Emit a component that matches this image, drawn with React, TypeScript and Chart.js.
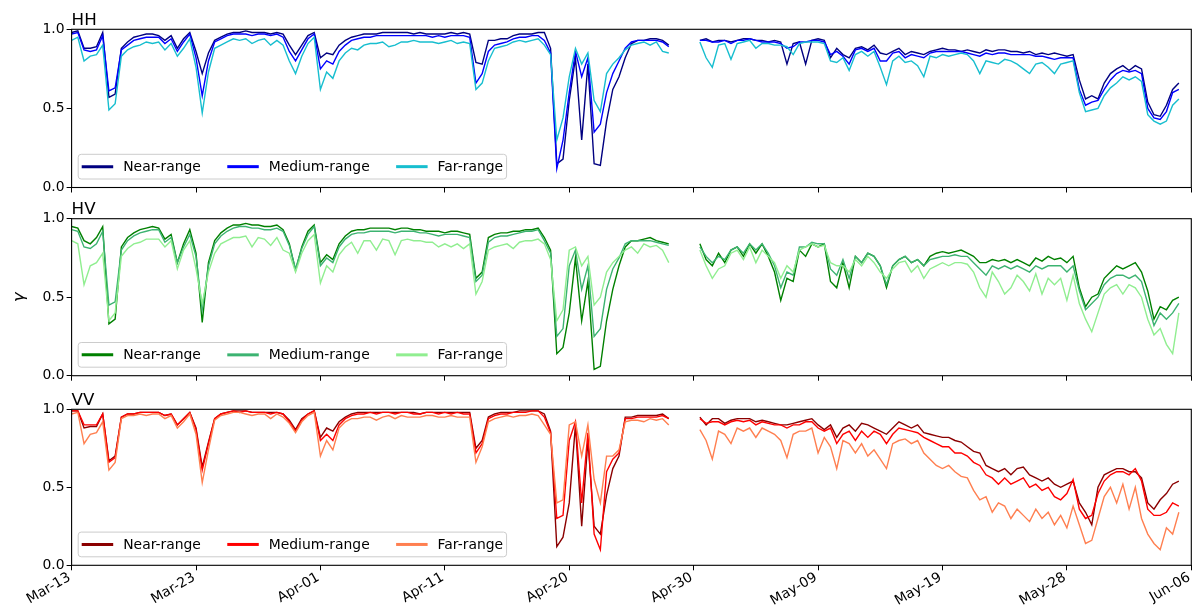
import { useEffect, useRef } from 'react';
import { Chart, registerables } from 'chart.js';

Chart.register(...registerables);

Chart.defaults.font.family = "'DejaVu Sans'";
Chart.defaults.font.size = 13.9;
Chart.defaults.color = '#000';

// Shared sample axis: one date label every 20 samples
const tickLabels = ['Mar-13', 'Mar-23', 'Apr-01', 'Apr-11', 'Apr-20', 'Apr-30', 'May-09', 'May-19', 'May-28', 'Jun-06'];
const samplesPerTick = 20;
const sampleCount = 181;
const rangeNames = ['Near-range', 'Medium-range', 'Far-range'];

// Coherence per sample, HH polarisation
const hhNear = [
  .98, .99, .88, .88, .89, .98, .57, .59, .88, .92,
  .95, .96, .97, .97, .96, .93, .96, .88, .94, .98,
  .86, .72, .85, .93, .95, .97, .98, .98, .99, .98,
  .98, .98, .97, .98, .97, .90, .84, .90, .96, .98,
  .82, .85, .84, .90, .93, .95, .96, .97, .97, .97,
  .98, .98, .98, .98, .98, .97, .98, .97, .97, .97,
  .97, .98, .97, .98, .97, .79, .78, .93, .93, .94,
  .94, .96, .97, .97, .97, .98, .98, .88, .15, .18,
  .55, .82, .30, .78, .15, .14, .42, .62, .70, .82,
  .91, .93, .93, .94, .94, .93, .90, null, null, null,
  null, .93, .94, .92, .93, .93, .92, .93, .94, .94,
  .93, .93, .92, .93, .92, .78, .91, .92, .78, .93,
  .94, .93, .82, .88, .84, .82, .88, .89, .87, .90,
  .85, .84, .86, .88, .84, .86, .85, .84, .86, .87,
  .88, .87, .87, .86, .87, .86, .85, .87, .86, .87,
  .87, .86, .86, .85, .86, .84, .85, .84, .85, .84,
  .83, .84, .68, .56, .58, .56, .66, .72, .75, .77,
  .74, .77, .75, .54, .46, .45, .52, .62, .66, null,
  null,
];
const hhMedium = [
  .97, .98, .87, .86, .87, .96, .61, .63, .87, .90,
  .93, .94, .95, .95, .95, .91, .94, .86, .92, .97,
  .82, .58, .80, .92, .94, .96, .97, .97, .97, .96,
  .97, .97, .96, .97, .95, .86, .80, .87, .94, .97,
  .75, .80, .78, .86, .90, .93, .94, .95, .95, .96,
  .96, .96, .96, .96, .96, .96, .96, .96, .95, .96,
  .95, .96, .96, .96, .95, .66, .72, .86, .90, .91,
  .92, .94, .95, .95, .96, .96, .93, .85, .12, .30,
  .60, .86, .70, .82, .35, .40, .60, .72, .80, .88,
  .92, .93, .93, .93, .93, .92, .89, null, null, null,
  null, .93, .93, .92, .92, .93, .91, .93, .93, .94,
  .93, .92, .92, .92, .91, .88, .89, .92, .92, .93,
  .93, .92, .84, .86, .83, .78, .87, .88, .86, .88,
  .80, .80, .85, .86, .82, .84, .83, .82, .85, .86,
  .86, .86, .86, .86, .85, .84, .83, .85, .84, .85,
  .85, .84, .84, .84, .84, .83, .83, .82, .81, .82,
  .82, .82, .62, .52, .54, .55, .62, .68, .72, .74,
  .73, .74, .72, .50, .44, .43, .48, .60, .62, null,
  null,
];
const hhFar = [
  .93, .95, .80, .83, .84, .90, .49, .53, .83, .87,
  .89, .90, .92, .91, .92, .87, .91, .83, .88, .94,
  .76, .47, .73, .88, .90, .92, .94, .93, .94, .91,
  .93, .94, .90, .93, .90, .80, .72, .83, .91, .95,
  .62, .73, .69, .80, .85, .88, .87, .90, .91, .91,
  .92, .89, .90, .92, .92, .93, .92, .92, .92, .91,
  .92, .93, .91, .92, .91, .62, .66, .80, .88, .89,
  .90, .92, .93, .92, .93, .94, .90, .84, .30, .44,
  .70, .88, .78, .85, .55, .48, .72, .78, .82, .87,
  .90, .91, .92, .90, .92, .86, .85, null, null, null,
  null, .92, .82, .76, .90, .91, .81, .91, .92, .93,
  .88, .91, .91, .90, .90, .89, .84, .91, .92, .92,
  .92, .91, .80, .79, .82, .74, .84, .86, .83, .86,
  .76, .65, .80, .83, .79, .80, .77, .70, .83, .82,
  .84, .83, .84, .85, .84, .80, .72, .80, .79, .78,
  .81, .80, .78, .75, .72, .78, .79, .76, .72, .78,
  .79, .80, .60, .48, .49, .50, .58, .63, .66, .70,
  .68, .70, .67, .46, .42, .40, .42, .52, .56, null,
  null,
];

// Coherence per sample, HV polarisation
const hvNear = [
  .95, .94, .86, .84, .88, .95, .33, .36, .82, .88,
  .91, .93, .94, .95, .94, .87, .90, .72, .84, .93,
  .78, .34, .72, .86, .91, .94, .96, .96, .97, .96,
  .96, .95, .95, .96, .93, .84, .67, .82, .92, .96,
  .72, .77, .74, .84, .89, .92, .93, .93, .94, .94,
  .94, .94, .93, .94, .94, .93, .93, .92, .92, .92,
  .91, .92, .92, .91, .90, .62, .66, .88, .90, .91,
  .91, .92, .92, .93, .93, .94, .88, .80, .14, .18,
  .40, .75, .35, .60, .04, .06, .35, .55, .70, .82,
  .86, .86, .87, .88, .86, .85, .84, null, null, null,
  null, .84, .74, .70, .78, .72, .80, .82, .76, .84,
  .78, .84, .76, .66, .48, .62, .60, .80, .76, .84,
  .82, .84, .60, .56, .72, .56, .76, .72, .78, .76,
  .70, .56, .70, .74, .76, .72, .74, .70, .76, .78,
  .79, .78, .79, .80, .78, .76, .72, .72, .74, .73,
  .74, .72, .74, .72, .70, .75, .73, .76, .74, .75,
  .72, .76, .56, .44, .50, .52, .62, .66, .70, .68,
  .70, .72, .66, .54, .36, .44, .42, .48, .50, null,
  null,
];
const hvMedium = [
  .93, .92, .82, .81, .84, .92, .45, .47, .80, .86,
  .89, .91, .92, .93, .93, .85, .88, .72, .82, .90,
  .76, .42, .70, .84, .89, .92, .94, .95, .95, .94,
  .94, .93, .93, .94, .92, .83, .68, .81, .90, .95,
  .70, .75, .72, .82, .87, .90, .91, .91, .92, .92,
  .92, .92, .91, .92, .92, .92, .91, .91, .90, .89,
  .90, .90, .90, .89, .88, .60, .64, .85, .88, .89,
  .89, .90, .91, .92, .92, .93, .86, .78, .25, .30,
  .70, .80, .55, .70, .25, .30, .55, .68, .75, .84,
  .86, .86, .86, .86, .85, .84, .83, null, null, null,
  null, .82, .76, .72, .76, .74, .80, .82, .78, .84,
  .80, .84, .78, .70, .56, .66, .64, .82, .82, .85,
  .84, .84, .68, .64, .74, .62, .76, .72, .78, .76,
  .70, .58, .70, .74, .76, .72, .74, .70, .74, .75,
  .76, .76, .77, .76, .76, .72, .68, .64, .70, .68,
  .70, .68, .70, .68, .66, .70, .68, .70, .70, .70,
  .66, .70, .54, .42, .46, .50, .58, .62, .64, .64,
  .62, .64, .60, .46, .32, .40, .36, .40, .46, null,
  null,
];
const hvFar = [
  .86, .84, .58, .70, .72, .78, .35, .40, .76, .81,
  .84, .85, .87, .87, .87, .82, .86, .68, .80, .86,
  .68, .46, .66, .78, .84, .86, .88, .88, .89, .82,
  .88, .87, .83, .88, .80, .78, .66, .78, .86, .90,
  .59, .70, .66, .77, .82, .85, .78, .86, .86, .80,
  .87, .86, .77, .86, .87, .86, .86, .85, .85, .82,
  .84, .82, .84, .81, .84, .52, .60, .80, .82, .83,
  .84, .81, .85, .86, .86, .87, .84, .74, .35, .42,
  .80, .82, .70, .76, .45, .50, .66, .72, .76, .80,
  .82, .78, .84, .82, .83, .80, .72, null, null, null,
  null, .80, .70, .62, .68, .70, .78, .80, .74, .82,
  .72, .80, .76, .72, .62, .70, .66, .80, .82, .84,
  .82, .83, .72, .70, .70, .66, .74, .70, .76, .72,
  .66, .62, .68, .72, .73, .66, .70, .62, .68, .70,
  .72, .70, .72, .72, .71, .66, .56, .50, .66, .60,
  .52, .56, .64, .60, .54, .65, .52, .62, .58, .62,
  .48, .64, .46, .36, .28, .40, .52, .56, .58, .52,
  .58, .56, .50, .36, .26, .30, .20, .14, .40, null,
  null,
];

// Coherence per sample, VV polarisation
const vvNear = [
  .99, .99, .88, .89, .89, .97, .67, .70, .95, .97,
  .97, .98, .98, .98, .98, .96, .97, .90, .94, .98,
  .88, .63, .79, .94, .97, .98, .99, .99, .99, .98,
  .98, .98, .98, .98, .97, .93, .87, .94, .97, .99,
  .82, .88, .86, .92, .95, .97, .98, .98, .98, .98,
  .98, .98, .98, .98, .98, .98, .97, .98, .98, .98,
  .98, .98, .98, .98, .98, .75, .80, .95, .97, .98,
  .98, .98, .99, .99, .99, .99, .97, .86, .12, .18,
  .40, .90, .25, .80, .25, .20, .45, .62, .70, .95,
  .95, .96, .96, .96, .96, .97, .94, null, null, null,
  null, .95, .90, .94, .94, .91, .93, .94, .94, .94,
  .92, .93, .92, .91, .90, .90, .91, .92, .93, .94,
  .90, .87, .90, .82, .88, .90, .86, .91, .90, .88,
  .86, .84, .88, .92, .90, .88, .90, .85, .84, .83,
  .82, .82, .80, .79, .76, .73, .72, .64, .62, .60,
  .62, .58, .62, .63, .58, .56, .54, .56, .52, .50,
  .52, .54, .40, .34, .26, .50, .58, .60, .62, .62,
  .60, .60, .56, .40, .36, .42, .46, .52, .54, null,
  null,
];
const vvMedium = [
  .99, .99, .90, .90, .90, .97, .66, .69, .95, .97,
  .97, .98, .98, .98, .98, .96, .97, .90, .94, .98,
  .87, .61, .78, .94, .97, .98, .99, .98, .99, .98,
  .98, .98, .97, .98, .97, .92, .86, .93, .97, .99,
  .80, .84, .80, .90, .94, .96, .97, .97, .98, .97,
  .98, .98, .97, .98, .98, .97, .97, .98, .98, .97,
  .98, .97, .98, .97, .97, .72, .78, .94, .96, .97,
  .97, .98, .98, .98, .99, .99, .95, .85, .30, .32,
  .80, .92, .40, .85, .20, .10, .60, .68, .72, .94,
  .94, .95, .95, .95, .95, .96, .94, null, null, null,
  null, .94, .91, .92, .92, .90, .92, .93, .92, .93,
  .90, .92, .91, .90, .90, .88, .90, .90, .92, .92,
  .88, .86, .88, .78, .84, .86, .80, .86, .82, .86,
  .84, .78, .84, .88, .87, .86, .85, .82, .80, .78,
  .76, .76, .72, .72, .70, .66, .64, .58, .56, .52,
  .56, .52, .54, .56, .50, .52, .48, .50, .44, .42,
  .46, .55, .36, .30, .32, .46, .54, .58, .60, .60,
  .58, .62, .54, .36, .32, .32, .34, .40, .38, null,
  null,
];
const vvFar = [
  .97, .98, .78, .84, .85, .92, .61, .66, .94, .96,
  .96, .97, .96, .97, .97, .94, .96, .88, .92, .97,
  .84, .53, .74, .93, .96, .97, .98, .98, .97, .96,
  .97, .97, .94, .97, .95, .91, .85, .92, .96, .98,
  .70, .80, .74, .88, .92, .94, .94, .95, .95, .93,
  .95, .96, .94, .96, .95, .95, .95, .96, .96, .95,
  .95, .96, .95, .95, .95, .66, .76, .92, .94, .95,
  .96, .95, .96, .96, .97, .96, .90, .84, .40, .42,
  .90, .92, .70, .90, .55, .40, .70, .70, .74, .92,
  .93, .93, .92, .94, .93, .94, .90, null, null, null,
  null, .87, .80, .68, .86, .84, .78, .88, .86, .88,
  .82, .88, .86, .84, .80, .69, .84, .86, .86, .88,
  .72, .82, .76, .62, .80, .78, .72, .78, .70, .74,
  .68, .62, .78, .80, .81, .78, .80, .72, .68, .64,
  .62, .64, .60, .57, .56, .48, .42, .44, .34, .40,
  .38, .30, .36, .32, .28, .36, .30, .34, .26, .32,
  .24, .38, .26, .14, .16, .30, .44, .50, .40, .52,
  .36, .50, .30, .20, .14, .10, .24, .20, .34, null,
  null,
];

type PanelSpec = {
  title: string;
  series: (number | null)[][];
  colors: string[];
  top: number;
  height: number;
  padTop: number;
  axisHeight: number;
  showDates: boolean;
  showYTitle: boolean;
};

const panels: PanelSpec[] = [
  { title: 'HH', series: [hhNear, hhMedium, hhFar], colors: ['#000080', '#0000ff', '#17becf'], top: 0, height: 200, padTop: 29.3, axisHeight: 12.5, showDates: false, showYTitle: false },
  { title: 'HV', series: [hvNear, hvMedium, hvFar], colors: ['#008000', '#3cb371', '#90ee90'], top: 200, height: 190, padTop: 18.7, axisHeight: 14.3, showDates: false, showYTitle: true },
  { title: 'VV', series: [vvNear, vvMedium, vvFar], colors: ['#8b0000', '#ff0000', '#ff7f50'], top: 390, height: 216, padTop: 19.3, axisHeight: 40.7, showDates: true, showYTitle: false },
];

// Draws the axes frame, the panel title and an in-plot legend box
const panelDecor = {
  id: 'panelDecor',
  afterDatasetsDraw(chart: any, _args: any, opts: any) {
    const { ctx, chartArea: a } = chart;
    ctx.save();
    ctx.strokeStyle = '#000';
    ctx.lineWidth = 1.1;
    ctx.strokeRect(a.left, a.top, a.right - a.left, a.bottom - a.top);

    ctx.fillStyle = '#000';
    ctx.font = "16.7px 'DejaVu Sans'";
    ctx.textAlign = 'left';
    ctx.textBaseline = 'alphabetic';
    ctx.fillText(opts.title, a.left, a.top - 4.3);

    ctx.font = "13.9px 'DejaVu Sans'";
    const bx = a.left + 6.6;
    const bh = 24.7;
    const by = a.bottom - 33.2;
    const items: { color: string; label: string; hx: number; tx: number }[] = [];
    let x = bx + 3.5;
    let end = x;
    chart.data.datasets.forEach((ds: any) => {
      const w = ctx.measureText(ds.label).width;
      items.push({ color: ds.borderColor, label: ds.label, hx: x, tx: x + 41.5 });
      end = x + 41.5 + w;
      x = end + 26.4;
    });
    const bw = end + 3.5 - bx;
    ctx.beginPath();
    ctx.roundRect(bx, by, bw, bh, 3);
    ctx.fillStyle = 'rgba(255,255,255,0.8)';
    ctx.fill();
    ctx.strokeStyle = '#cccccc';
    ctx.lineWidth = 1;
    ctx.stroke();
    const cy = by + bh / 2;
    ctx.textBaseline = 'middle';
    items.forEach((it) => {
      ctx.beginPath();
      ctx.moveTo(it.hx, cy);
      ctx.lineTo(it.hx + 31.5, cy);
      ctx.strokeStyle = it.color;
      ctx.lineWidth = 3;
      ctx.stroke();
      ctx.fillStyle = '#000';
      ctx.fillText(it.label, it.tx, cy + 0.5);
    });
    ctx.restore();
  },
};

function buildConfig(p: PanelSpec): any {
  const tickGrid = { drawOnChartArea: false, drawTicks: true, tickLength: 5, color: '#000', tickColor: '#000', lineWidth: 1 };
  return {
    type: 'line',
    data: {
      datasets: p.series.map((vals, k) => ({
        label: rangeNames[k],
        data: vals.map((v, i) => ({ x: i, y: v })),
        borderColor: p.colors[k],
        backgroundColor: p.colors[k],
        borderWidth: 1.4,
        pointRadius: 0,
        fill: false,
        tension: 0,
        spanGaps: false,
        order: 3 - k,
      })),
    },
    options: {
      responsive: false,
      animation: false,
      events: [],
      layout: { padding: { top: p.padTop, right: 0.7, left: 0, bottom: 0 } },
      plugins: {
        legend: { display: false },
        tooltip: { enabled: false },
        panelDecor: { title: p.title },
      },
      scales: {
        x: {
          type: 'linear',
          min: 0,
          max: sampleCount - 1,
          grid: tickGrid,
          border: { display: false },
          ticks: {
            display: p.showDates,
            stepSize: samplesPerTick,
            autoSkip: false,
            minRotation: 30,
            maxRotation: 30,
            padding: -1,
            labelOffset: -2,
            color: '#000',
            callback: (v: number) => tickLabels[Math.round(v / samplesPerTick)] ?? '',
          },
          afterFit: (s: any) => {
            s.height = p.axisHeight;
            s.paddingLeft = 0;
            s.paddingRight = 0;
          },
        },
        y: {
          min: 0,
          max: 1,
          grid: tickGrid,
          border: { display: false },
          ticks: { stepSize: 0.5, padding: 2, color: '#000', callback: (v: number) => Number(v).toFixed(1) },
          title: {
            display: p.showYTitle,
            text: 'γ',
            color: '#000',
            font: { size: 16.7, style: 'italic', family: "'DejaVu Sans'" },
            padding: { top: 10, bottom: 0 },
          },
          afterFit: (s: any) => {
            s.width = 71.6;
            s.paddingTop = 0;
            s.paddingBottom = 0;
          },
        },
      },
    },
    plugins: [panelDecor],
  };
}

function Panel({ spec }: { spec: PanelSpec }) {
  const ref = useRef<HTMLCanvasElement>(null);
  useEffect(() => {
    const chart = new Chart(ref.current as HTMLCanvasElement, buildConfig(spec));
    return () => chart.destroy();
  }, [spec]);
  return (
    <canvas
      ref={ref}
      width={1192}
      height={spec.height}
      style={{ position: 'absolute', left: 0, top: spec.top, width: 1192, height: spec.height }}
    />
  );
}

export default function App() {
  return (
    <div style={{ position: 'absolute', left: 0, top: 0, width: 1192, height: 606, overflow: 'hidden', background: '#fff' }}>
      {panels.map((p) => (
        <Panel key={p.title} spec={p} />
      ))}
    </div>
  );
}
